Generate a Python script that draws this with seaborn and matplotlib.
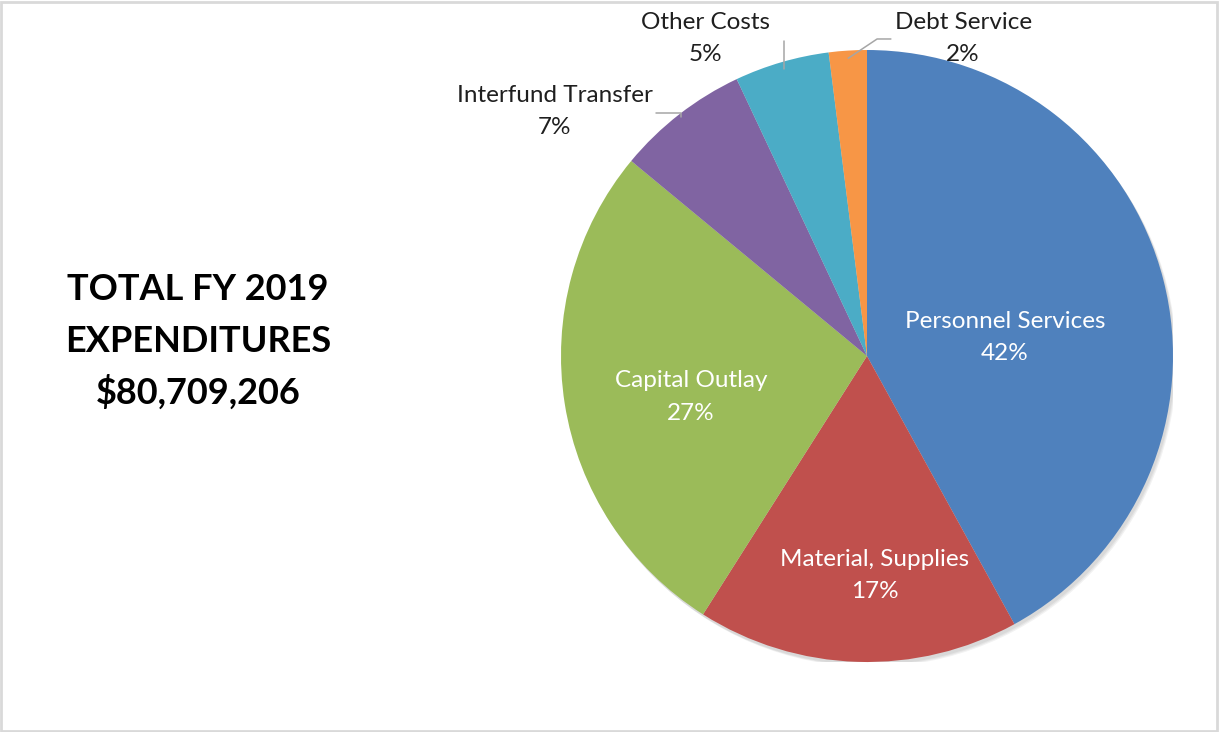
import numpy as np
import matplotlib
matplotlib.use("Agg")
import matplotlib.pyplot as plt
import seaborn as sns

# Expenditure categories and their shares of the total (percent)
categories = ["Personnel Services", "Material, Supplies", "Capital Outlay",
              "Interfund Transfer", "Other Costs", "Debt Service"]
shares = [42, 17, 27, 7, 5, 2]
slice_colors = ["#4F81BD", "#C0504D", "#9BBB59", "#8064A2", "#4BACC6", "#F79646"]
title_lines = ["TOTAL FY 2019", "EXPENDITURES", "$80,709,206"]

sns.set_theme(style="white")
plt.rcParams["font.family"] = ["Lato", "DejaVu Sans"]

W, H = 1219, 732
fig = plt.figure(figsize=(W / 100, H / 100), dpi=100)
fig.patch.set_facecolor("white")

# border around the whole chart area
fig.add_artist(plt.Rectangle((0.001, 0.002), 0.997, 0.995, transform=fig.transFigure,
                             fill=False, edgecolor="#D9D9D9", linewidth=2))

cx, cy, r = 867, 356, 306
ax = fig.add_axes([(cx - r) / W, (H - cy - r) / H, 2 * r / W, 2 * r / H])

# soft drop shadow under the pie
for k, a in enumerate([0.05, 0.05, 0.05]):
    ax.add_patch(plt.Circle((0.006 + 0.003 * k, -0.010 - 0.003 * k), 1.0,
                            color="black", alpha=a, linewidth=0, zorder=0))

wedges, _ = ax.pie(shares, colors=slice_colors, startangle=90, counterclock=False,
                   radius=1.0, wedgeprops=dict(linewidth=0, zorder=1))
ax.set_xlim(-1, 1)
ax.set_ylim(-1, 1)
ax.set_aspect("equal")
ax.axis("off")

pct = [f"{v:.0f}%" for v in shares]
fs = 17.5
ls = 1.65
inside = {0: (0.451, 0.06), 1: (0.026, -0.716), 2: (-0.575, -0.134)}
for i, (x, y) in inside.items():
    ax.text(x, y, f"{categories[i]}\n{pct[i]}", ha="center", va="center",
            color="white", fontsize=fs, linespacing=ls, zorder=3)

outside = {3: (-1.02, 0.80), 4: (-0.529, 1.039), 5: (0.314, 1.039)}
for i, (x, y) in outside.items():
    ax.text(x, y, f"{categories[i]}\n{pct[i]}", ha="center", va="center",
            color="#1F1F1F", fontsize=fs, linespacing=ls, clip_on=False, zorder=3)


def edge_point(w, rad=0.97):
    mid = np.deg2rad((w.theta1 + w.theta2) / 2)
    return rad * np.cos(mid), rad * np.sin(mid)


lc = dict(color="#A6A6A6", linewidth=1.1, clip_on=False, zorder=2)
x3, y3 = edge_point(wedges[3], 0.99)
ax.plot([x3, x3, -0.69], [y3, 0.794, 0.794], **lc)
x4, y4 = edge_point(wedges[4], 0.975)
ax.plot([x4, x4], [y4, 1.029], **lc)
x5, y5 = edge_point(wedges[5], 0.975)
ax.plot([x5, 0.033, 0.078], [y5, 1.036, 1.036], **lc)

for k, line in enumerate(title_lines):
    fig.text(198 / W, 1 - (290 + 51 * k) / H, line, ha="center", va="center",
             fontsize=26, fontweight="bold", color="black")

fig.savefig("out.png", dpi=100, facecolor="white")
